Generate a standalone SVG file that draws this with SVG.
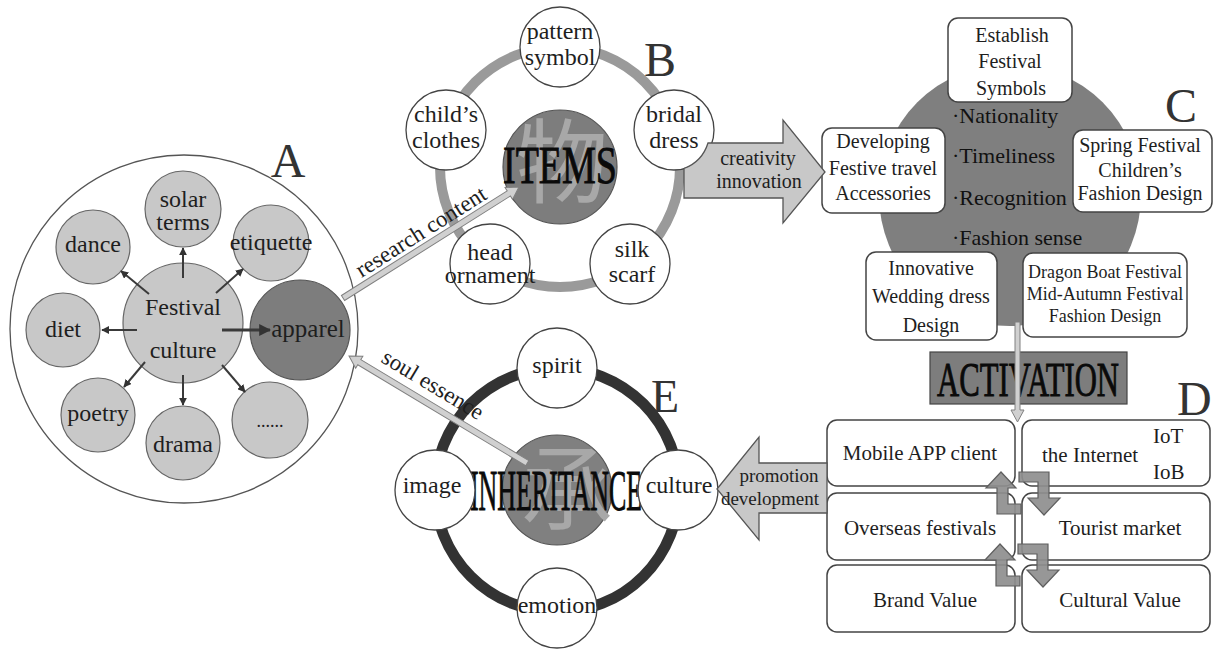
<svg xmlns="http://www.w3.org/2000/svg" width="1215" height="650" viewBox="0 0 1215 650">
<style>
text { font-family: "Liberation Serif", "Times New Roman", serif; fill: #1e1e1e; }
.lbl { font-size: 48px; fill: #333; }
.t24 { font-size: 24px; text-anchor: middle; }
.t23 { font-size: 23px; text-anchor: middle; }
.t21 { font-size: 21px; text-anchor: middle; }
.t20 { font-size: 20px; text-anchor: middle; }
.t19 { font-size: 19px; text-anchor: middle; }
.t18 { font-size: 18px; text-anchor: middle; }
.big { font-size: 22px; fill: #111; }
.title { fill: #0a0a0a; stroke: #0a0a0a; stroke-width: 0.9; text-anchor: middle; }
.lite { fill: #c8c8c8; stroke: #666; stroke-width: 1.2; }
.white { fill: #fff; stroke: #444; stroke-width: 1.3; }
.box { fill: #fff; stroke: #444; stroke-width: 1.5; }
.dark { fill: #7d7d7d; stroke: #555; stroke-width: 1.2; }
.cjk { font-family: "Noto Sans CJK SC", sans-serif; fill: #a8a8a8; text-anchor: middle; }
.conn { stroke: #3a3a3a; stroke-width: 2; fill: none; marker-end: url(#ah); }
.thin { fill: #d0d0d0; stroke: #808080; stroke-width: 1; }
.block { fill: #c8c8c8; stroke: #555; stroke-width: 1.3; }
.bent { fill: #8e8e8e; stroke: #5e5e5e; stroke-width: 1.2; fill-opacity: 0.92; }
</style>
<defs>
<marker id="ah" viewBox="0 0 10 10" refX="9" refY="5" markerWidth="4" markerHeight="4" orient="auto">
<path d="M0,0 L10,5 L0,10 z" fill="#333"/>
</marker>
<g id="bentPair">
<path class="bent" d="M1021,514 L997,514 L997,488 L986,488 L1001,472 L1016,488 L1008,488 L1008,504 L1021,504 Z"/>
<path class="bent" d="M1019,472 L1049,472 L1049,498 L1060,498 L1044,515 L1028,498 L1038,498 L1038,482 L1019,482 Z"/>
</g>
</defs>

<!-- A -->
<g id="nodeA">
<circle cx="184" cy="329" r="174" fill="#fff" stroke="#555" stroke-width="1.3"/>
<text class="lbl" x="288" y="177" text-anchor="middle">A</text>
</g>
<g id="a-festival"><circle class="lite" cx="183" cy="323" r="60"/>
<text class="t24" x="183" y="315">Festival</text><text class="t24" x="183" y="358">culture</text></g>
<g id="a-solar"><circle class="lite" cx="183" cy="209" r="38"/>
<text class="t24" x="183" y="207">solar</text><text class="t24" x="183" y="230">terms</text></g>
<g id="a-dance"><circle class="lite" cx="93" cy="247" r="37"/><text class="t24" x="93" y="252">dance</text></g>
<g id="a-etiquette"><circle class="lite" cx="271" cy="243" r="38"/><text class="t24" x="271" y="250">etiquette</text></g>
<g id="a-diet"><circle class="lite" cx="63" cy="330" r="37"/><text class="t24" x="63" y="337">diet</text></g>
<g id="a-apparel"><circle class="dark" cx="300" cy="330" r="50"/><text class="t24" x="308" y="337" style="font-size:25px">apparel</text></g>
<g id="a-poetry"><circle class="lite" cx="98" cy="415" r="37"/><text class="t24" x="98" y="421">poetry</text></g>
<g id="a-drama"><circle class="lite" cx="183" cy="443" r="37"/><text class="t24" x="183" y="452">drama</text></g>
<g id="a-more"><circle class="lite" cx="270" cy="420" r="38"/><text class="t18" x="270" y="427">......</text></g>

<!-- B -->
<g id="nodeB">
<circle cx="560" cy="167" r="120" fill="none" stroke="#9a9a9a" stroke-width="10"/>
<circle class="dark" cx="560" cy="167" r="57"/>
<text class="cjk" x="562" y="196" font-size="92">物</text>
<text class="title" x="560" y="183" font-size="52" textLength="114" lengthAdjust="spacingAndGlyphs">ITEMS</text>
<text class="lbl" x="644" y="76">B</text>
</g>
<g id="b-pattern"><circle class="white" cx="560" cy="47" r="40"/><text class="t24" x="560" y="39">pattern</text><text class="t24" x="560" y="65">symbol</text></g>
<g id="b-bridal"><circle class="white" cx="674" cy="130" r="40"/><text class="t24" x="674" y="122">bridal</text><text class="t24" x="674" y="148">dress</text></g>
<g id="b-silk"><circle class="white" cx="630" cy="264" r="40"/><text class="t24" x="632" y="257">silk</text><text class="t24" x="632" y="282">scarf</text></g>
<g id="b-head"><circle class="white" cx="490" cy="264" r="40"/><text class="t24" x="490" y="260">head</text><text class="t24" x="490" y="283">ornament</text></g>
<g id="b-child"><circle class="white" cx="446" cy="130" r="40"/><text class="t24" x="446" y="122">child’s</text><text class="t24" x="446" y="148">clothes</text></g>

<!-- C -->
<g id="nodeC">
<circle cx="1010" cy="195" r="131" fill="#7f7f7f"/>
<text class="big" x="952" y="123">·Nationality</text>
<text class="big" x="952" y="163">·Timeliness</text>
<text class="big" x="952" y="205">·Recognition</text>
<text class="big" x="952" y="245">·Fashion sense</text>
<text class="lbl" x="1165" y="122">C</text>
</g>
<g id="c-establish"><rect class="box" x="948" y="18" width="124" height="84" rx="10"/>
<text class="t20" x="1012" y="42">Establish</text><text class="t20" x="1010" y="68">Festival</text><text class="t20" x="1011" y="95">Symbols</text></g>
<g id="c-developing"><rect class="box" x="822" y="128" width="123" height="85" rx="10"/>
<text class="t20" x="883" y="148">Developing</text><text class="t20" x="883" y="175">Festive travel</text><text class="t20" x="883" y="200">Accessories</text></g>
<g id="c-spring"><rect class="box" x="1073" y="130" width="139" height="82" rx="10"/>
<text class="t20" x="1140" y="152">Spring Festival</text><text class="t20" x="1140" y="177">Children’s</text><text class="t20" x="1140" y="200">Fashion Design</text></g>
<g id="c-wedding"><rect class="box" x="866" y="252" width="131" height="88" rx="10"/>
<text class="t20" x="931" y="275">Innovative</text><text class="t20" x="931" y="303">Wedding dress</text><text class="t20" x="931" y="332">Design</text></g>
<g id="c-dragon"><rect class="box" x="1023" y="253" width="164" height="84" rx="10"/>
<text class="t18" x="1105" y="278">Dragon Boat Festival</text><text class="t18" x="1105" y="300">Mid-Autumn Festival</text><text class="t18" x="1105" y="322">Fashion Design</text></g>

<!-- D -->
<g id="nodeD">
<rect x="930" y="352" width="197" height="52" fill="#7d7d7d" stroke="#444" stroke-width="1.2"/>
<text class="title" x="1028" y="396" font-size="48" textLength="182" lengthAdjust="spacingAndGlyphs">ACTIVATION</text>
<text class="lbl" x="1177" y="415">D</text>
</g>
<g id="d-mobile"><rect class="box" x="827" y="420" width="188" height="66" rx="10"/><text class="t21" x="920" y="460">Mobile APP client</text></g>
<g id="d-internet"><rect class="box" x="1022" y="420" width="188" height="66" rx="10"/>
<text x="1042" y="462" font-size="21">the Internet</text><text x="1153" y="443" font-size="21">IoT</text><text x="1153" y="479" font-size="21">IoB</text></g>
<g id="d-overseas"><rect class="box" x="827" y="493" width="188" height="67" rx="10"/><text class="t21" x="920" y="535">Overseas festivals</text></g>
<g id="d-tourist"><rect class="box" x="1022" y="493" width="188" height="67" rx="10"/><text class="t21" x="1120" y="535">Tourist market</text></g>
<g id="d-brand"><rect class="box" x="827" y="565" width="188" height="67" rx="10"/><text class="t21" x="925" y="607">Brand Value</text></g>
<g id="d-cultural"><rect class="box" x="1022" y="565" width="188" height="67" rx="10"/><text class="t21" x="1120" y="607">Cultural Value</text></g>

<!-- E -->
<g id="nodeE">
<circle cx="557" cy="490" r="122" fill="none" stroke="#333" stroke-width="11"/>
<circle cx="557" cy="490" r="55" fill="#808080" stroke="#555" stroke-width="1.2"/>
<text class="cjk" x="567" y="523" font-size="92">承</text>
<text class="title" x="556" y="510" font-size="56" textLength="172" lengthAdjust="spacingAndGlyphs">INHERITANCE</text>
<text class="lbl" x="651" y="412" style="font-size:46px">E</text>
</g>
<g id="e-spirit"><circle class="white" cx="557" cy="368" r="40"/><text class="t24" x="557" y="373">spirit</text></g>
<g id="e-image"><circle class="white" cx="435" cy="490" r="40"/><text class="t24" x="432" y="493">image</text></g>
<g id="e-culture"><circle class="white" cx="678" cy="490" r="40"/><text class="t24" x="679" y="493">culture</text></g>
<g id="e-emotion"><circle class="white" cx="557" cy="608" r="40"/><text class="t24" x="557" y="613">emotion</text></g>

<!-- connectors -->
<g id="connectors">
<line class="conn" x1="183" y1="278" x2="183" y2="248"/>
<line class="conn" x1="216" y1="293" x2="243" y2="269"/>
<line class="conn" x1="149" y1="294" x2="121" y2="271"/>
<line class="conn" x1="137" y1="330" x2="102" y2="330"/>
<line class="conn" x1="222" y1="330" x2="270" y2="330" style="stroke-width:3"/>
<line class="conn" x1="145" y1="362" x2="124" y2="387"/>
<line class="conn" x1="183" y1="375" x2="183" y2="405"/>
<line class="conn" x1="222" y1="365" x2="245" y2="392"/>

<g transform="translate(343,298) rotate(-32.24)"><polygon class="thin" points="0,-3 196,-3 196,-7 208,0 196,7 196,3 0,3"/></g>
<text class="t23" transform="translate(425,238) rotate(-32.24)">research content</text>

<g transform="translate(349,356) rotate(31.01)"><polygon class="thin" points="0,0 12,-7 12,-3 208,-3 208,3 12,3 12,7"/></g>
<text class="t23" transform="translate(429,391) rotate(31.01)">soul essence</text>

<path class="block" d="M684,198 L684,168.5 A40,40 0 0 0 708,143 L783,143 L783,120 L825,172 L783,223 L783,198 Z"/>
<text class="t20" x="758" y="165">creativity</text>
<text class="t20" x="759" y="188">innovation</text>

<polygon class="block" points="717,489 759,437 759,463 827,463 827,513 759,513 759,540"/>
<text class="t19" x="779" y="482">promotion</text>
<text class="t19" x="770" y="505">development</text>

<polygon class="thin" points="1015,322 1020,322 1020,410 1024,410 1017.5,422 1011,410 1015,410"/>

<use href="#bentPair"/>
<use href="#bentPair" transform="translate(-1,72)"/>
</g>
</svg>
